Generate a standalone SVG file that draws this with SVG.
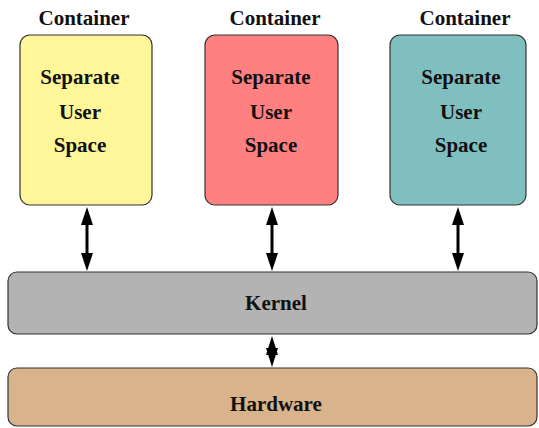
<svg xmlns="http://www.w3.org/2000/svg" width="539" height="428" viewBox="0 0 539 428">
  <style>
    .box { stroke: #333; stroke-width: 1.2; }
    .t { font-family: "Liberation Serif", "Times New Roman", serif; font-weight: bold; font-size: 21px; text-anchor: middle; fill: #111; }
    .link { stroke: #000; stroke-width: 3; fill: none; }
    .head { fill: #000; }
  </style>
  <rect width="539" height="428" fill="#fff"/>

  <g id="container-1">
    <text class="t" x="84" y="25">Container</text>
    <rect class="box" x="20" y="35" width="132" height="170" rx="10" fill="#fff599"/>
    <text class="t" x="80" y="84">Separate</text>
    <text class="t" x="80" y="119">User</text>
    <text class="t" x="80" y="152">Space</text>
  </g>

  <g id="container-2">
    <text class="t" x="275" y="25">Container</text>
    <rect class="box" x="205" y="35" width="133" height="170" rx="10" fill="#ff8080"/>
    <text class="t" x="271" y="84">Separate</text>
    <text class="t" x="271" y="119">User</text>
    <text class="t" x="271" y="152">Space</text>
  </g>

  <g id="container-3">
    <text class="t" x="465" y="25">Container</text>
    <rect class="box" x="390" y="35" width="136" height="170" rx="10" fill="#80bfbf"/>
    <text class="t" x="461" y="84">Separate</text>
    <text class="t" x="461" y="119">User</text>
    <text class="t" x="461" y="152">Space</text>
  </g>

  <g id="kernel">
    <rect class="box" x="8" y="272" width="529" height="62" rx="9" fill="#b3b3b3"/>
    <text class="t" x="276" y="310">Kernel</text>
  </g>

  <g id="hardware">
    <rect class="box" x="8" y="368" width="529" height="58" rx="9" fill="#d9b38c"/>
    <text class="t" x="276" y="411">Hardware</text>
  </g>

  <g id="connectors">
    <!-- container 1 <-> kernel -->
    <path class="head" d="M81,253 L93,253 L87,271 Z"/>
    <path class="head" d="M81,225 L93,225 L87,207 Z"/>
    <line class="link" x1="87" y1="220" x2="87" y2="260"/>

    <!-- container 2 <-> kernel -->
    <path class="head" d="M266,253 L278,253 L272,271 Z"/>
    <path class="head" d="M266,225 L278,225 L272,207 Z"/>
    <line class="link" x1="272" y1="220" x2="272" y2="260"/>

    <!-- container 3 <-> kernel -->
    <path class="head" d="M452,253 L464,253 L458,271 Z"/>
    <path class="head" d="M452,225 L464,225 L458,207 Z"/>
    <line class="link" x1="458" y1="220" x2="458" y2="260"/>

    <!-- kernel <-> hardware -->
    <path class="head" d="M266,348 L278,348 L272,367 Z"/>
    <path class="head" d="M266,355 L278,355 L272,336 Z"/>
  </g>
</svg>
